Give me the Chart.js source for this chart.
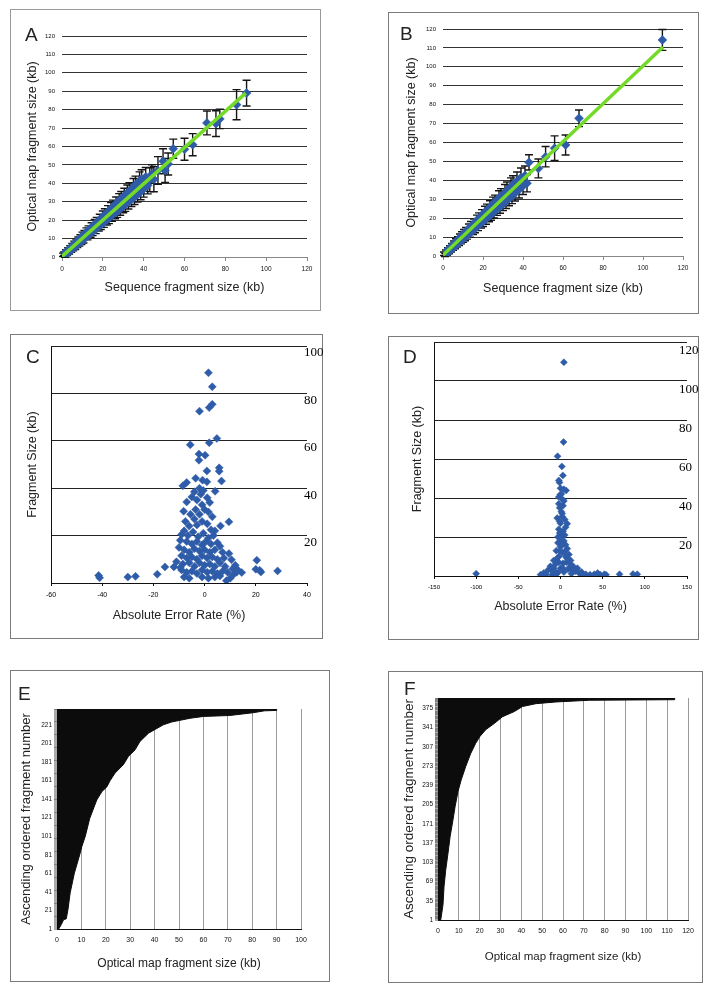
<!DOCTYPE html>
<html>
<head>
<meta charset="utf-8">
<title>Optical map vs sequence fragment sizes</title>
<script src="https://cdn.jsdelivr.net/npm/chart.js@4.4.1/dist/chart.umd.min.js"></script>
<style>
  body { margin: 0; background: #fff; width: 712px; height: 995px; position: relative; overflow: hidden;
         font-family: 'Liberation Sans', Arial, sans-serif; }
  .panel { position: absolute; border: 1px solid #7a7a7a; box-sizing: border-box; }
  .panel canvas { position: absolute; left: -1px; top: -1px; }
  .tag { position: absolute; font-size: 19px; line-height: 19px; color: #222; }
</style>
</head>
<body>
<div class="panel" style="left:10px;top:9px;width:311px;height:302px;border-color:#9a9a9a"><canvas id="chartA" width="311" height="302"></canvas></div>
<div class="panel" style="left:388px;top:12px;width:311px;height:302px"><canvas id="chartB" width="311" height="302"></canvas></div>
<div class="panel" style="left:10px;top:334px;width:313px;height:305px"><canvas id="chartC" width="313" height="305"></canvas></div>
<div class="panel" style="left:388px;top:336px;width:311px;height:304px"><canvas id="chartD" width="311" height="304"></canvas></div>
<div class="panel" style="left:10px;top:670px;width:320px;height:312px"><canvas id="chartE" width="320" height="312"></canvas></div>
<div class="panel" style="left:388px;top:671px;width:315px;height:312px"><canvas id="chartF" width="315" height="312"></canvas></div>

<div class="tag" style="left:25px;top:25px">A</div>
<div class="tag" style="left:400px;top:24px">B</div>
<div class="tag" style="left:26px;top:347px">C</div>
<div class="tag" style="left:403px;top:347px">D</div>
<div class="tag" style="left:18px;top:684px">E</div>
<div class="tag" style="left:404px;top:679px">F</div>

<script>
// ---- panel A: sequence size vs optical map size (kb), with +/- error
const aSeq = [0.5,1,1.5,2,2.5,3,3.5,4,4.5,5, 5.5,6,6.5,7,7.5,8,8.5,9,9.5,10,
  10.5,11,12,12.5,13,14,14.5,15,16,16.5, 17,18,18.5,19,20,20.5,21,22,22.5,23,
  24,24.5,25,26,26.5,27,28,28.5,29,30, 30.5,31,32,32.5,33,34,35,35.5,36,37,
  38,38.5,39,40,41,42,43,44,45,47, 49.5,50.5,52,54.5,60,64,71,75.4,77.3,85.5, 90.4];
const aOpt = [1.2,1.8,0.8,2.8,1.8,3.8,2.7,4.9,3.7,6, 4.6,7.1,5.5,8.1,6.6,9.2,7.5,10.3,8.4,11.5,
  9.3,12.4,13.6,11.2,14.6,12.8,16.2,13.8,17.8,15, 18.8,16.6,20.4,17.4,22,18.8,23.1,20.2,24.6,21,
  26.2,22.5,27.4,24,28.9,24.8,30.5,26.1,31.6,27.6, 33.2,28.5,34.8,29.9,36,31.3,38,32.6,39.2,34,
  41.3,35.4,42.4,37,43.5,39,42,45,42.2,47, 52,47,50.5,58.8,58.5,61,72.8,72.4,75,82.7, 89];
const aErr = [0.9,1,0.9,1.1,1,1.2,1.1,1.3,1.2,1.4, 1.3,1.5,1.4,1.6,1.5,1.7,1.6,1.8,1.6,2,
  1.7,2,2.2,1.9,2.3,2.1,2.4,2.2,2.6,2.3, 2.7,2.5,2.8,2.5,3,2.7,3.1,2.8,3.3,2.9,
  3.4,3.1,3.5,3.2,3.7,3.3,3.9,3.4,4,3.6, 4.1,3.7,4.3,3.8,4.4,3.9,4.6,4.1,4.7,4.2,
  4.9,4.3,5,4.5,5.1,4.7,6.5,5,6.8,7.5, 6.8,6.5,6,5.2,6,6,6.5,7,5.3,8.2, 7];
const aFitX = [0, 90];
const aFitY = [0.3, 89];

// ---- panel B
const bSeq = [0.5,1,1.5,2,2.5,3,3.5,4,4.5,5, 5.5,6,6.5,7,7.5,8,8.5,9,9.5,10,
  10.5,11,11.5,12,13,13.5,14,15,15.5,16, 17,17.5,18,19,19.5,20,21,21.5,22,23,
  23.5,24,25,25.5,26,27,28,28.5,29,30, 31,31.5,32,33,34,34.5,35,36,37,38,
  39,40,41,42,43,47.7,51.3,55.8,61.3,68, 109.7];
const bOpt = [1.2,0.6,2.2,1.2,3.3,2.2,4.3,3.2,5.4,4.2, 6.5,5.1,7.6,6.1,8.6,7,9.8,8,10.9,8.9,
  12,9.9,13,10.8,14.6,12,15.8,13.6,17,14.6, 18.9,15.8,20,17.3,21.5,18.2,23.2,19.6,24.2,21,
  25.8,21.9,27.5,23.2,28.5,24.8,30.6,26,31.6,27.5, 33.6,28.8,34.8,30.4,36.8,31.6,37.8,33.2,39.6,35,
  41.5,37,42.5,38.5,49.5,46.3,52.5,57,58.7,72.8, 114.2];
const bErr = [0.9,0.9,1,0.9,1.1,1,1.2,1.1,1.3,1.2, 1.4,1.3,1.5,1.4,1.6,1.5,1.8,1.6,1.9,1.7,
  2,1.8,2.1,1.9,2.3,2,2.4,2.2,2.5,2.3, 2.7,2.4,2.8,2.5,3,2.6,3.1,2.8,3.2,2.9,
  3.4,3,3.6,3.1,3.7,3.3,3.9,3.4,4,3.5, 4.2,3.7,4.3,3.8,4.5,3.9,4.6,4.1,4.8,4.3,
  5,4.5,5.1,4.6,4,5,5.4,6.5,5.3,4.4, 5.5];
const bFitX = [0, 110];
const bFitY = [0.5, 110.5];

// ---- panel C: [absolute error rate %, fragment size kb]
const cPoints = [
  [-41.4,3.2],[-41,2.2],[-30,2.5],[-27,2.8],[-18.5,3.7],[-15.5,6.8],[-12,6.8],[20.4,9.6],[20,5.8],[21.5,5.4],
  [22,4.6],[28.5,5.1],[14.5,4.4],[12.5,4.5],[10,2],[8.5,1],[11,3.3],[12,7.5],[10.5,9.8],[9.5,12.4],
  [9.5,25.8],[6.2,24.1],[1.5,88.7],[3,82.8],[3,75.4],[1.8,74],[-2,72.5],[4.8,61],[1.8,59.2],[-5.6,58.3],
  [-2.2,54.4],[0.2,53.9],[-2.2,51.8],[5.7,48.6],[5.7,47.2],[0.9,47.3],[-8.5,41],[-7,42.4],[-3.5,44.2],[-0.8,43.4],
  [0.9,42.7],[6.6,43],[4.1,38.7],[-7,34.2],[-8.2,30.3],[-5,36.3],[-3,35],[-1.5,37.5],[-4,38.5],[-2,40],
  [-0.5,39],[1,36],[2,34],[-1,33],[-3.5,31],[-5.5,29],[-4,27],[-2,29],[0,31],[1.5,30],
  [3,28],[-7.5,26],[-6,24],[-3,24.5],[-1,26],[1,25],[2.5,22.5],[4,22],[-8,22],[-9,20.5],
  [-6.5,20],[-4.5,21.5],[-2.5,19.5],[-0.5,21],[1.5,19],[3.5,20],[-9.5,18],[-7,17.5],[-5,16.5],[-3,17.5],
  [-1,16],[0.5,17.5],[2.5,16.5],[5,17],[6,15.5],[-10,15],[-8,14],[-6,13],[-4,14.5],[-2,13.5],
  [0,14],[2,13],[4,14],[7,13],[-9,11.5],[-7,10.5],[-5,11],[-3,10],[-1,11.5],[1,10.5],
  [3,11],[5,10],[7.5,10.5],[-11,9],[-8.5,8],[-6,8.5],[-4,7],[-2,8.5],[0,7.5],[2,8],
  [4,7],[6,8.5],[8,7],[-9,5.5],[-7,4.5],[-5,5],[-3,4],[-1,5.5],[1,4.5],[3,5],
  [5,4],[7,5],[9,4.5],[-8,2.5],[-6,2],[-1,2.5],[1.5,2],[4,2.5],[6,3],[-9.5,6.5],
  [11,6],[13,5.5]
];

// ---- panel D
const dPoints = [
  [4,109.6],[3.6,68.7],[-3.5,61.4],[1.6,56.2],[2.8,51.6],[-1.2,48],[-2,49],[6.7,43.9],[-0.4,41.7],[2.8,39.1],
  [-3.9,29.7],[7.9,26.8],[4,44.5],[0,45],[-2,40.5],[3,36],[1,33],[-1,35],[2,30.5],[5,29],
  [0,27],[-2,24],[3,23],[1,20.5],[-1,22],[4,18],[-3,17],[6,16],[8,14],[-5,13],
  [10,11],[2,12],[-2,10],[0,15],[5,12.5],[-4,9],[12,8],[7,7],[-6,6],[3,6.5],
  [15,5],[-8,4],[0,4],[9,3.5],[18,2.5],[-11,3],[22,1.5],[4,2],[-3,1.8],[13,1.2],
  [6,25],[-1,28],[2,32],[-2,37],[4,38.5],[1,42],[-3,20],[5,21],[0,18.5],[2,16],
  [-1,13],[6,10],[-2,7],[8,9],[3,4],[-6,2],[11,4.5],[14,3],[-15,3],[-12,5],
  [15,2.5],[20,4],[25,2],[-20,1.5],[12,6],[10,8],[-8,8],
  [-100,1.2],[-23.7,0.7],[-17,0.8],[-10,0.7],[-5,1],[25,0.8],[30,0.9],[35,0.7],[40,0.9],[44,1.5],
  [47,0.8],[52,0.9],[54,0.6],[70,0.9],[86,1.0],[91,0.9]
];

// ---- panels E, F: ascending ordered fragments (rank) vs optical map size (kb)
const eRank = [1,6,11,12,22,40,61,81,90,101,120,140,149,154,161,169,178,187,194,203,212,221,224,228,230,231,234,236,236.5,238];
const eSize = [0.7,1.8,2.7,3.8,4.5,5.4,7.1,9.3,10.2,11.6,13.4,16.3,18.4,20.4,21.8,23.8,27.2,29.3,32,34,37.5,43.6,47,54.5,60,70.8,80.4,85,90,90];
const eTicks = [1,21,41,61,81,101,121,141,161,181,201,221];

const fRank = [1,13,28,60,89,119,148,178,201,228,248,272,295,313,325,337,348,360,369,378,383,386,389,390,393];
const fSize = [1.3,1.8,2.4,2.9,3.7,4.8,5.8,7.2,8.2,9.6,11.1,13.3,15.7,18.1,20.1,22.9,27,31,36.6,40.6,47,56.6,72.7,113.6,113.6];
const fTicks = [1,35,69,103,137,171,205,239,273,307,341,375];

const SANS = "'Liberation Sans', Arial, sans-serif";
const SERIF = "'Liberation Serif', 'Times New Roman', serif";
const BLUE = '#2e5ca8';
const GREEN = '#74da28';

Chart.defaults.font.family = SANS;
Chart.defaults.color = '#111';
Chart.defaults.animation = false;
Chart.defaults.responsive = false;
Chart.defaults.plugins.legend.display = false;
Chart.defaults.plugins.tooltip.enabled = false;

// scale boxes get fixed sizes so each plot area sits where the figure has it
const fixW = w => s => { s.width = w; };
const fixH = h => s => { s.height = h; };

function errorBars(xs, ys, errs) {
    return {
        id: 'errorBars',
        beforeDatasetsDraw(chart) {
            const { ctx, scales: { x, y } } = chart;
            ctx.save();
            ctx.strokeStyle = '#151515';
            ctx.lineWidth = 1.4;
            xs.forEach((v, i) => {
                const px = x.getPixelForValue(v);
                const top = y.getPixelForValue(ys[i] + errs[i]);
                const bot = y.getPixelForValue(ys[i] - errs[i]);
                ctx.beginPath();
                ctx.moveTo(px, top); ctx.lineTo(px, bot);
                ctx.moveTo(px - 4, top); ctx.lineTo(px + 4, top);
                ctx.moveTo(px - 4, bot); ctx.lineTo(px + 4, bot);
                ctx.stroke();
            });
            ctx.restore();
        }
    };
}

function titleOpt(text, size) {
    return { display: true, text: text, font: { size: size }, padding: 0, color: '#222' };
}

function sizePanel(id, xs, ys, errs, fitX, fitY, pad, yW, xH) {
    new Chart(document.getElementById(id), {
        type: 'scatter',
        data: {
            datasets: [
                { type: 'line', data: fitX.map((x, i) => ({ x, y: fitY[i] })),
                  borderColor: GREEN, borderWidth: 3.5, pointRadius: 0 },
                { data: xs.map((x, i) => ({ x, y: ys[i] })), pointStyle: 'rectRot', pointRadius: 4.5,
                  backgroundColor: BLUE, borderColor: BLUE, borderWidth: 0.5 }
            ]
        },
        options: {
            devicePixelRatio: 1,
            layout: { padding: pad },
            scales: {
                x: {
                    type: 'linear', min: 0, max: 120, afterFit: fixH(xH),
                    ticks: { stepSize: 20, font: { size: 6.5 }, padding: 4 },
                    grid: { drawOnChartArea: false, tickLength: 4, color: '#888' },
                    border: { color: '#888' },
                    title: titleOpt('Sequence fragment size (kb)', 12.5)
                },
                y: {
                    min: 0, max: 120, afterFit: fixW(yW),
                    ticks: { stepSize: 10, font: { size: 6 }, padding: 7 },
                    grid: { color: '#333', drawTicks: false },
                    border: { display: false },
                    title: titleOpt('Optical map fragment size (kb)', 12.5)
                }
            }
        },
        plugins: [errorBars(xs, ys, errs)]
    });
}

// labelShift: how far the right-hand labels start left of the plot edge
function errorPanel(id, pts, xMin, xMax, xStep, yMax, pad, ylW, yrW, xH, labelOff, labelShift, radius, xFont) {
    new Chart(document.getElementById(id), {
        type: 'scatter',
        data: {
            datasets: [{
                data: pts.map(p => ({ x: p[0], y: p[1] })), pointStyle: 'rectRot', pointRadius: radius,
                backgroundColor: BLUE, borderColor: BLUE, borderWidth: 0.5
            }]
        },
        options: {
            devicePixelRatio: 1,
            layout: { padding: pad },
            scales: {
                x: {
                    type: 'linear', min: xMin, max: xMax, afterFit: fixH(xH),
                    ticks: { stepSize: xStep, font: { size: xFont }, padding: 5, color: '#000' },
                    grid: { drawOnChartArea: false, tickLength: 3, color: '#111' },
                    border: { color: '#111' },
                    title: titleOpt('Absolute Error Rate (%)', 12.5)
                },
                yl: {
                    position: 'left', min: 0, max: yMax, afterFit: fixW(ylW),
                    ticks: { display: false },
                    grid: { display: false },
                    border: { color: '#111' },
                    title: titleOpt('Fragment Size (kb)', 12.5)
                },
                y: {
                    position: 'right', min: 0, max: yMax,
                    afterFit: s => { s.width = yrW; s.paddingTop = 0; s.paddingBottom = 0; },
                    // mirrored labels are not clipped to the axis box, so they may start over the plot edge
                    ticks: { stepSize: 20, mirror: true, crossAlign: 'far', labelOffset: labelOff,
                             font: { family: SERIF, size: 13 }, color: '#000',
                             padding: 0,
                             callback: v => (v === 0 ? '' : v) },
                    afterUpdate: s => {
                        const widest = s._getLabelSizes().widest.width;
                        s.options.ticks.padding = widest - labelShift;
                    },
                    grid: { color: '#222', drawTicks: false },
                    border: { display: false }
                }
            }
        }
    });
}

function rankPanel(id, sizes, ranks, rankTicks, rankMax, xMax, pad, yW, xH, yTitle, xTitle) {
    new Chart(document.getElementById(id), {
        type: 'line',
        data: {
            datasets: [{
                data: sizes.map((x, i) => ({ x, y: ranks[i] })),
                fill: 'origin', backgroundColor: '#0c0c0c', borderColor: '#0c0c0c',
                borderWidth: 1, pointRadius: 0, tension: 0
            }]
        },
        options: {
            devicePixelRatio: 1,
            indexAxis: 'y',
            layout: { padding: pad },
            scales: {
                x: {
                    type: 'linear', min: 0, max: xMax, afterFit: fixH(xH),
                    ticks: { stepSize: 10, font: { size: 7 }, padding: 7 },
                    grid: { color: '#9a9a9a', drawTicks: false },
                    border: { color: '#111' },
                    title: titleOpt('Optical map fragment size (kb)', xTitle)
                },
                y: {
                    type: 'linear', min: 1, max: rankMax, afterFit: fixW(yW),
                    // a tick mark for every fragment, a label for every listed rank
                    afterBuildTicks: s => {
                        const t = [];
                        for (let r = 1; r <= rankMax; r++) t.push({ value: r });
                        s.ticks = t;
                    },
                    ticks: { autoSkip: false, font: { size: 6.5 }, padding: 2,
                             callback: v => (rankTicks.includes(v) ? v : '') },
                    grid: { drawOnChartArea: false, tickLength: 3, color: '#555', lineWidth: 0.5 },
                    border: { color: '#111' },
                    title: titleOpt('Ascending ordered fragment number', yTitle)
                }
            }
        }
    });
}

sizePanel('chartA', aSeq, aOpt, aErr, aFitX, aFitY, { left: 15, top: 27, right: 14, bottom: 16 }, 37, 38);
sizePanel('chartB', bSeq, bOpt, bErr, bFitX, bFitY, { left: 16, top: 17, right: 16, bottom: 18 }, 39, 40);

errorPanel('chartC', cPoints, -60, 40, 20, 100, { left: 15, top: 12, right: 0, bottom: 16 }, 26, 16, 40, 7, 3, 4, 7);
errorPanel('chartD', dPoints, -150, 150, 50, 120, { left: 22, top: 6, right: 0, bottom: 26 }, 24, 12, 38, 9, 8, 3.5, 6);

rankPanel('chartE', eSize, eRank, eTicks, 238, 100, { left: 9, top: 39, right: 29, bottom: 11 }, 38, 42, 13, 12);
rankPanel('chartF', fSize, fRank, fTicks, 393, 120, { left: 13, top: 27, right: 15, bottom: 19 }, 37, 44, 13.5, 11.5);
</script>
</body>
</html>
